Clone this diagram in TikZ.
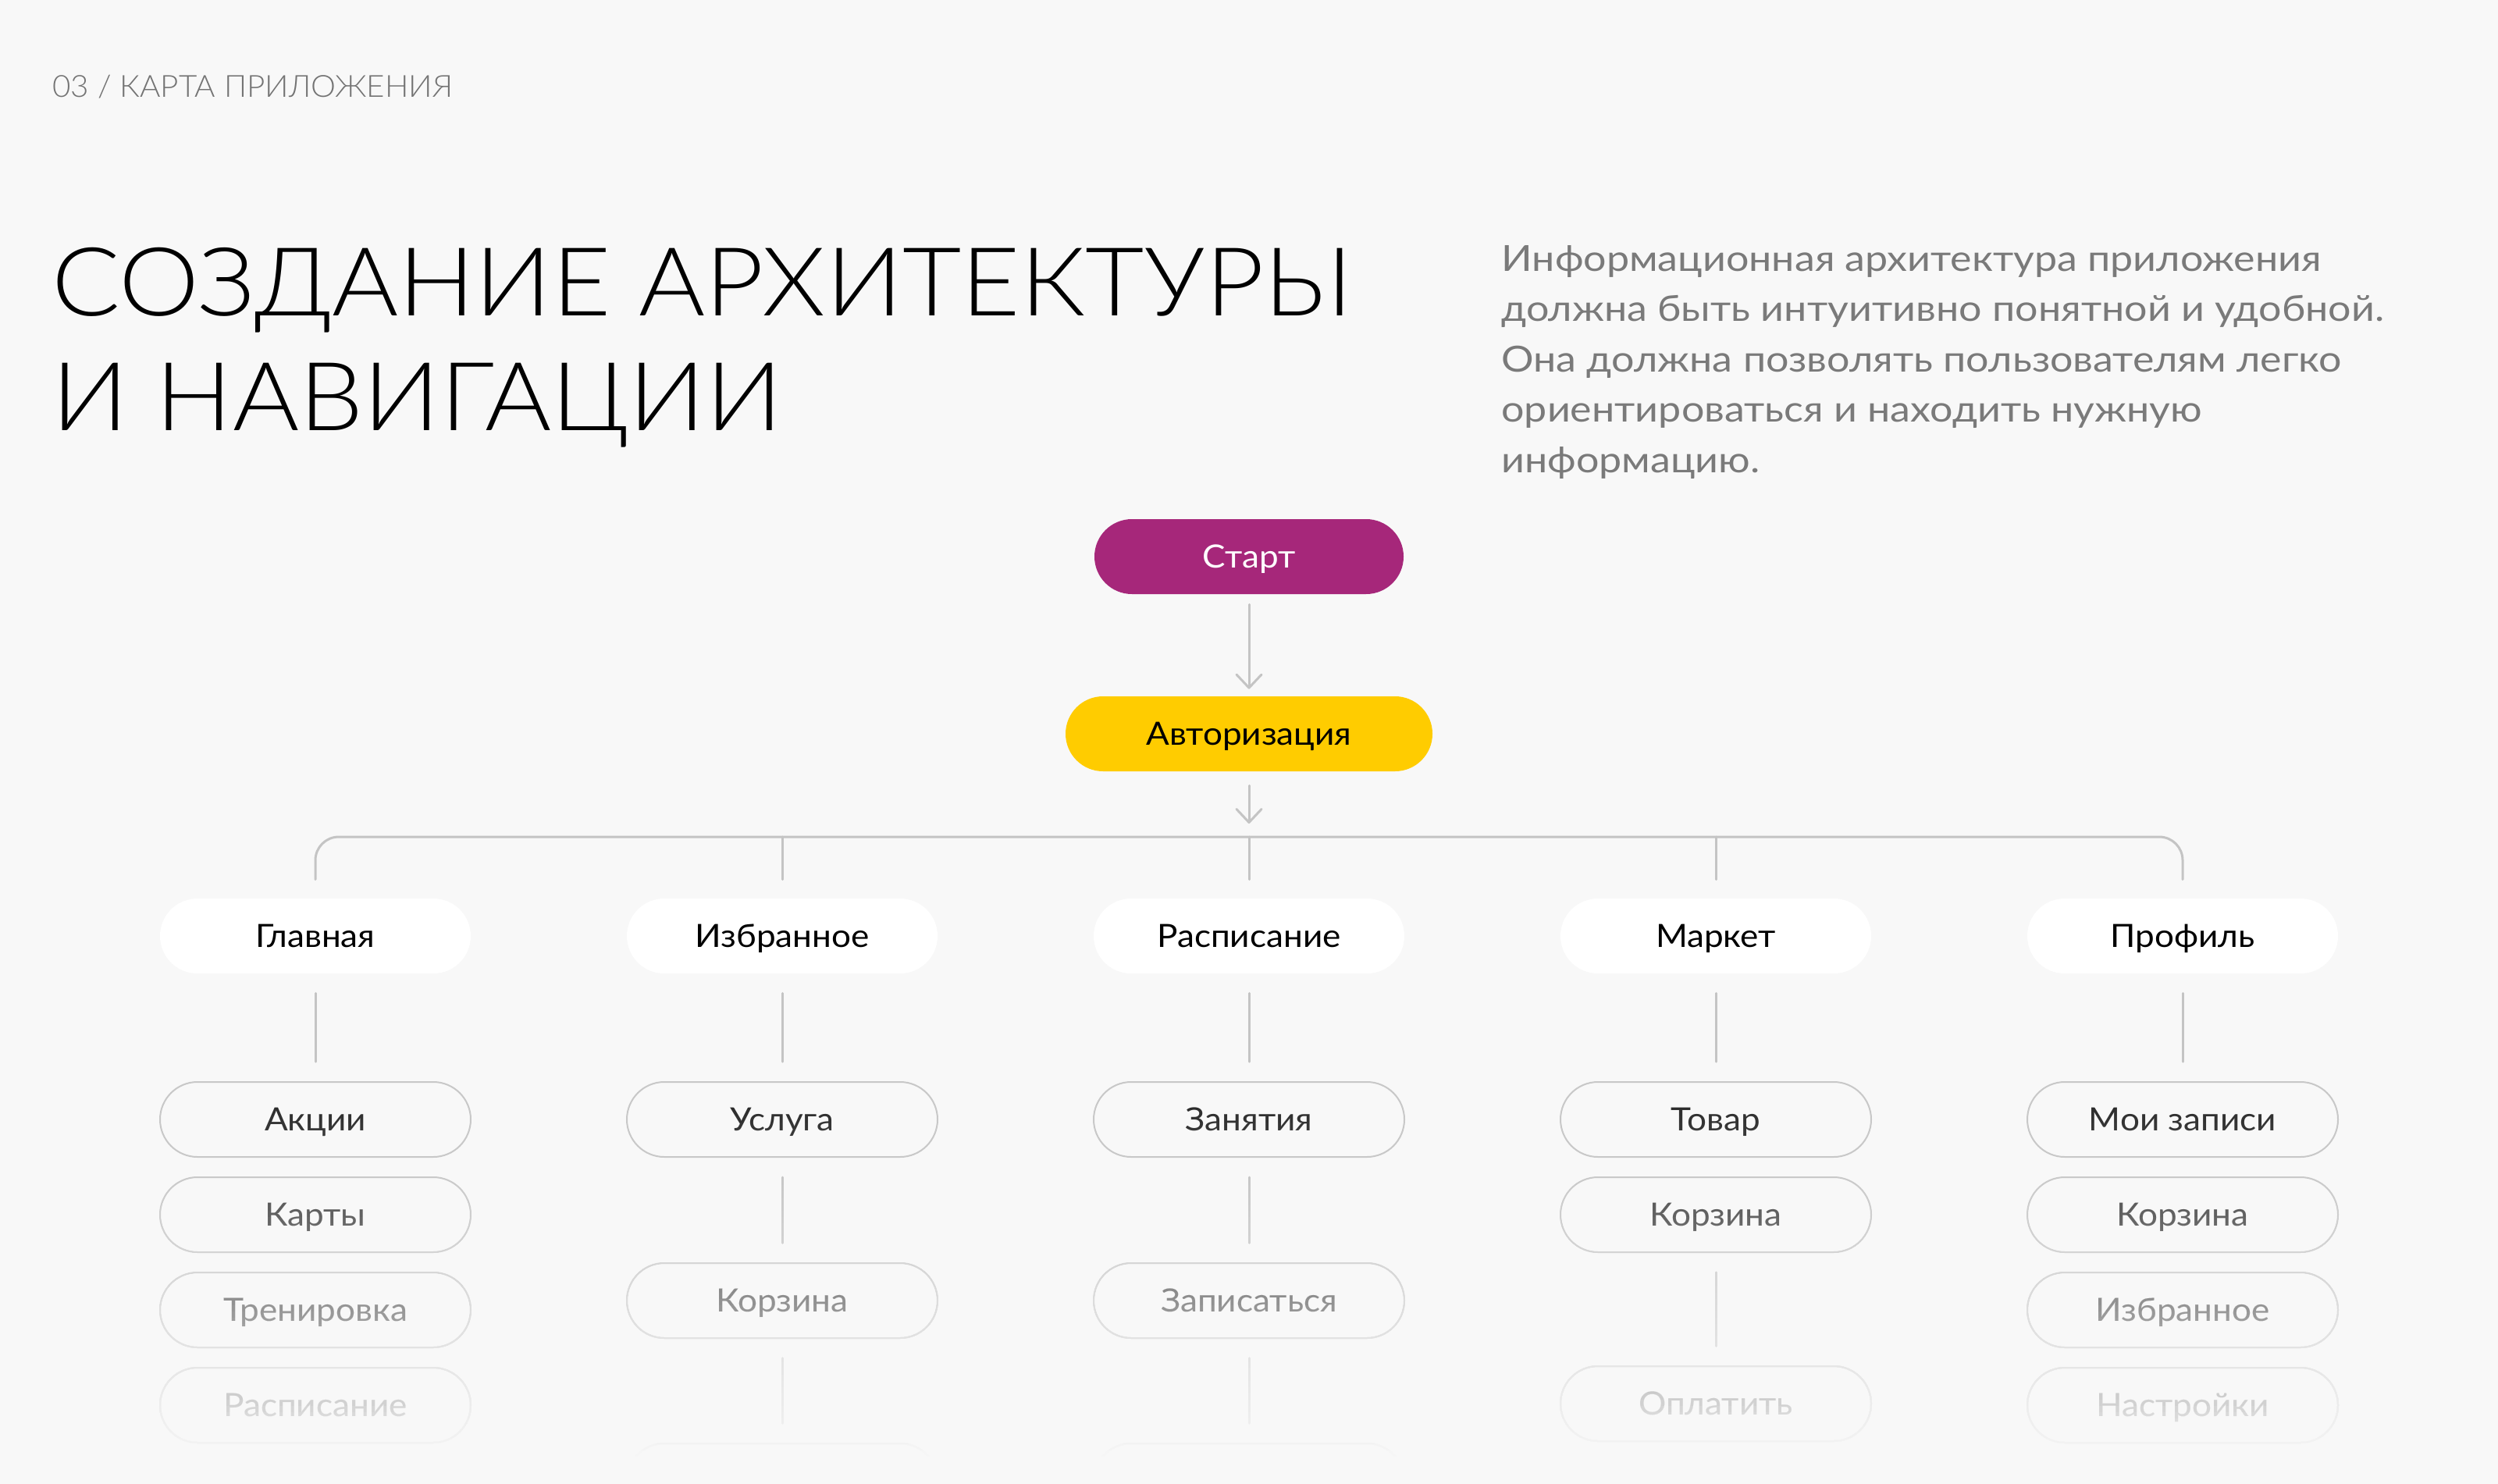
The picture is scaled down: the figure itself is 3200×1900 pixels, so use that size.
\documentclass[tikz,border=0pt]{standalone}
\usepackage{fontspec}
\setmainfont{Lato}
\newfontfamily\titlefont{Lato Light}[FakeStretch=1.067]
\newfontfamily\headfont{Lato Light}[FakeStretch=1.035]
\newfontfamily\parafont{Lato}[FakeStretch=1.13]
\newfontfamily\labelfont{Lato}[FakeStretch=1.075]
\usetikzlibrary{arrows.meta}
\definecolor{bgc}{HTML}{F8F8F8}
\definecolor{plum}{HTML}{A6277A}
\definecolor{gold}{HTML}{FFCC00}
\definecolor{linec}{HTML}{C4C4C4}
\definecolor{boxline}{HTML}{C8C8C8}
\definecolor{graytext}{HTML}{737373}
\definecolor{paratext}{HTML}{7A7A7A}
\begin{document}
\begin{tikzpicture}[x=0.5pt,y=-0.5pt,
 pill/.style={rectangle, rounded corners=24pt, minimum width=199pt, minimum height=48pt, inner sep=0pt, font=\labelfont\fontsize{20.5}{24}\selectfont, text height=14.7pt, text depth=0pt, align=center},
 startbox/.style={pill, fill=plum, text=white, minimum width=198pt},
 authbox/.style={pill, fill=gold, text=black, minimum width=235pt},
 secbox/.style={pill, fill=white, text=black},
 leafbox/.style={pill, draw=boxline, line width=1pt, text=black!88},
 conn/.style={draw=linec, line width=1.5pt, line cap=round},
 gap/.style={shorten <=12.5pt, shorten >=12.5pt},
 arr/.style={conn, -{Straight Barb[length=8.5pt,width=16pt,line cap=round,line join=round]}},
 headtxt/.style={anchor=base west, inner sep=0pt, font=\headfont\fontsize{19.5}{24}\selectfont, text=graytext},
 titletxt/.style={anchor=base west, inner sep=0pt, font=\titlefont\fontsize{61}{70}\selectfont, text=black},
 paratxt/.style={anchor=base west, inner sep=0pt, font=\parafont\fontsize{23}{30}\selectfont, text=paratext},
]
\useasboundingbox (0,0) rectangle (3200,1900);
\fill[bgc] (0,0) rectangle (3200,1900);

% header and texts
\node[headtxt] (hdr) at (67,124.5) {03 / КАРТА ПРИЛОЖЕНИЯ};
\node[titletxt] (t1) at (66,404) {СОЗДАНИЕ АРХИТЕКТУРЫ};
\node[titletxt] (t2) at (66,551) {И НАВИГАЦИИ};
\node[paratxt] (p1) at (1923,347) {Информационная архитектура приложения};
\node[paratxt] (p2) at (1923,411.5) {должна быть интуитивно понятной и удобной.};
\node[paratxt] (p3) at (1923,476) {Она должна позволять пользователям легко};
\node[paratxt] (p4) at (1923,540.5) {ориентироваться и находить нужную};
\node[paratxt] (p5) at (1923,605) {информацию.};

% top nodes
\node[startbox] (start) at (1600,713) {Старт};
\node[authbox] (auth) at (1600,940) {Авторизация};
\coordinate (bus) at (1600,1072);

% level 2
\node[secbox] (s1) at (404,1199) {Главная};
\node[secbox] (s2) at (1002,1199) {Избранное};
\node[secbox] (s3) at (1600,1199) {Расписание};
\node[secbox] (s4) at (2198,1199) {Маркет};
\node[secbox] (s5) at (2796,1199) {Профиль};

% level 3
\node[leafbox] (a1) at (404,1434) {Акции};
\node[leafbox] (a2) at (404,1556) {Карты};
\node[leafbox] (a3) at (404,1678) {Тренировка};
\node[leafbox] (a4) at (404,1800) {Расписание};

\node[leafbox] (b1) at (1002,1434) {Услуга};
\node[leafbox] (b2) at (1002,1666) {Корзина};
\node[leafbox] (b3) at (1002,1897) {};

\node[leafbox] (c1) at (1600,1434) {Занятия};
\node[leafbox] (c2) at (1600,1666) {Записаться};
\node[leafbox] (c3) at (1600,1897) {};

\node[leafbox] (d1) at (2198,1434) {Товар};
\node[leafbox] (d2) at (2198,1556) {Корзина};
\node[leafbox] (d3) at (2198,1798) {Оплатить};

\node[leafbox] (e1) at (2796,1434) {Мои записи};
\node[leafbox] (e2) at (2796,1556) {Корзина};
\node[leafbox] (e3) at (2796,1678) {Избранное};
\node[leafbox] (e4) at (2796,1800) {Настройки};

% connectors
\draw[arr, shorten <=6.5pt, shorten >=4.5pt] (start) -- (auth);
\draw[arr, shorten <=9pt, shorten >=8.5pt] (auth) -- (bus);
\draw[conn, rounded corners=15pt] ([yshift=12pt]s1.north) |- (bus) -| ([yshift=12pt]s5.north);
\foreach \i in {2,3,4} \draw[conn] (bus -| s\i.north) -- ([yshift=12pt]s\i.north);

\draw[conn, gap] (s1) -- (a1);
\draw[conn, gap] (s2) -- (b1);
\draw[conn, gap] (s3) -- (c1);
\draw[conn, gap] (s4) -- (d1);
\draw[conn, gap] (s5) -- (e1);
\draw[conn, gap] (b1) -- (b2);
\draw[conn, gap] (b2) -- (b3);
\draw[conn, gap] (c1) -- (c2);
\draw[conn, gap] (c2) -- (c3);
\draw[conn, gap] (d2) -- (d3);

% fade towards the bottom: stacked layers give a linear fade
\foreach \k in {1,...,60}{
  \pgfmathsetmacro\op{1/(61-\k)}
  \pgfmathsetmacro\yy{1385+(\k-0.5)*8.08333}
  \fill[bgc, fill opacity=\op] (0,\yy) rectangle (3200,1901);
}
\end{tikzpicture}
\end{document}
